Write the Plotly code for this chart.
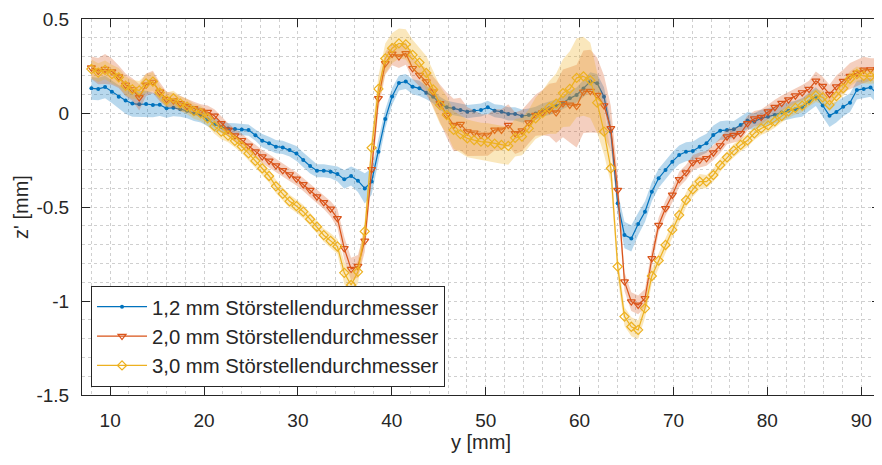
import numpy as np
import plotly.graph_objects as go

# sampling positions along y [mm]
y_mm = np.round(np.linspace(8.0, 91.72, 116), 3)

series_names = ["1,2 mm Störstellendurchmesser",
                "2,0 mm Störstellendurchmesser",
                "3,0 mm Störstellendurchmesser"]

z_12 = [0.131, 0.128, 0.138, 0.113, 0.087, 0.066, 0.050, 0.046, 0.048, 0.043,
        0.044, 0.025, 0.028, 0.020, 0.012, -0.002, -0.011, -0.035, -0.060, -0.075,
        -0.083, -0.085, -0.088, -0.091, -0.118, -0.147, -0.161, -0.179, -0.183, -0.197,
        -0.215, -0.250, -0.282, -0.307, -0.307, -0.312, -0.325, -0.353, -0.335, -0.360,
        -0.401, -0.365, -0.206, -0.032, 0.088, 0.160, 0.167, 0.140, 0.131, 0.108,
        0.087, 0.051, 0.030, 0.025, 0.016, 0.007, 0.012, 0.016, 0.030, 0.012,
        0.007, -0.005, -0.005, -0.016, -0.011, -0.002, 0.016, 0.025, 0.037, 0.055,
        0.078, 0.096, 0.130, 0.167, 0.158, 0.087, -0.099, -0.480, -0.649, -0.667,
        -0.590, -0.525, -0.419, -0.347, -0.303, -0.259, -0.223, -0.206, -0.202, -0.179,
        -0.161, -0.117, -0.094, -0.090, -0.087, -0.064, -0.040, -0.046, -0.028, -0.020,
        -0.011, 0.002, 0.012, 0.020, 0.030, 0.060, 0.087, 0.040, -0.014, 0.005,
        0.033, 0.055, 0.122, 0.128, 0.136, 0.101]

z_20 = [0.241, 0.223, 0.234, 0.220, 0.193, 0.150, 0.125, 0.083, 0.150, 0.165,
        0.113, 0.073, 0.066, 0.051, 0.037, 0.025, 0.012, 0.005, -0.015, -0.055,
        -0.090, -0.120, -0.145, -0.175, -0.205, -0.232, -0.255, -0.280, -0.305, -0.327,
        -0.350, -0.380, -0.410, -0.445, -0.475, -0.510, -0.560, -0.720, -0.830, -0.815,
        -0.680, -0.300, 0.078, 0.264, 0.314, 0.300, 0.317, 0.238, 0.202, 0.167,
        0.113, 0.051, -0.011, -0.064, -0.059, -0.099, -0.105, -0.117, -0.117, -0.090,
        -0.090, -0.064, -0.108, -0.094, -0.051, -0.011, 0.002, 0.016, 0.002, 0.051,
        0.043, 0.037, 0.113, 0.116, 0.095, 0.040, -0.082, -0.410, -0.897, -1.003,
        -1.021, -0.986, -0.773, -0.596, -0.507, -0.436, -0.353, -0.317, -0.264, -0.250,
        -0.241, -0.211, -0.173, -0.126, -0.118, -0.108, -0.055, -0.030, -0.022, 0.007,
        0.031, 0.053, 0.071, 0.092, 0.109, 0.127, 0.171, 0.143, 0.100, 0.140,
        0.170, 0.196, 0.213, 0.229, 0.231, 0.232]

z_30 = [0.234, 0.215, 0.229, 0.207, 0.190, 0.145, 0.126, 0.120, 0.158, 0.167,
        0.108, 0.069, 0.078, 0.051, 0.034, 0.010, -0.002, -0.028, -0.070, -0.099,
        -0.120, -0.148, -0.178, -0.215, -0.255, -0.295, -0.335, -0.390, -0.430, -0.470,
        -0.495, -0.525, -0.565, -0.605, -0.650, -0.680, -0.710, -0.850, -0.915, -0.845,
        -0.630, -0.185, 0.128, 0.290, 0.345, 0.370, 0.365, 0.309, 0.268, 0.213,
        0.125, 0.042, -0.011, -0.090, -0.112, -0.135, -0.144, -0.152, -0.155, -0.163,
        -0.170, -0.175, -0.132, -0.125, -0.082, -0.028, 0.000, 0.030, 0.050, 0.106,
        0.128, 0.187, 0.195, 0.174, 0.055, -0.099, -0.294, -0.817, -1.083, -1.137,
        -1.154, -1.039, -0.867, -0.785, -0.702, -0.622, -0.543, -0.463, -0.406, -0.365,
        -0.365, -0.330, -0.277, -0.236, -0.200, -0.170, -0.146, -0.108, -0.082, -0.066,
        -0.044, -0.016, 0.009, 0.027, 0.039, 0.069, 0.093, 0.083, 0.043, 0.090,
        0.131, 0.182, 0.207, 0.197, 0.195, 0.200]

# half width of the shaded scatter band
hw_12 = [0.06, 0.06, 0.06, 0.06, 0.06, 0.07, 0.07, 0.07, 0.07, 0.065,
         0.06, 0.05, 0.045, 0.04, 0.04, 0.04, 0.04, 0.035, 0.035, 0.03,
         0.03, 0.03, 0.03, 0.03, 0.03, 0.035, 0.035, 0.035, 0.035, 0.035,
         0.04, 0.04, 0.04, 0.035, 0.035, 0.035, 0.04, 0.05, 0.05, 0.06,
         0.08, 0.07, 0.06, 0.05, 0.045, 0.04, 0.04, 0.04, 0.04, 0.035,
         0.035, 0.035, 0.035, 0.035, 0.035, 0.035, 0.035, 0.035, 0.035, 0.035,
         0.035, 0.035, 0.035, 0.035, 0.035, 0.035, 0.035, 0.035, 0.035, 0.035,
         0.04, 0.04, 0.045, 0.05, 0.05, 0.05, 0.05, 0.06, 0.07, 0.07,
         0.06, 0.055, 0.05, 0.05, 0.05, 0.05, 0.05, 0.05, 0.05, 0.05,
         0.05, 0.05, 0.05, 0.05, 0.045, 0.045, 0.045, 0.045, 0.045, 0.045,
         0.045, 0.045, 0.045, 0.045, 0.05, 0.05, 0.05, 0.06, 0.06, 0.055,
         0.05, 0.05, 0.05, 0.05, 0.05, 0.05]

hw_20 = [0.06, 0.07, 0.08, 0.07, 0.06, 0.06, 0.06, 0.07, 0.06, 0.06,
         0.05, 0.04, 0.04, 0.04, 0.035, 0.035, 0.035, 0.035, 0.035, 0.035,
         0.035, 0.035, 0.035, 0.035, 0.035, 0.035, 0.035, 0.035, 0.035, 0.035,
         0.035, 0.035, 0.035, 0.035, 0.035, 0.04, 0.05, 0.06, 0.06, 0.06,
         0.06, 0.06, 0.06, 0.06, 0.06, 0.06, 0.06, 0.06, 0.06, 0.07,
         0.08, 0.10, 0.12, 0.14, 0.14, 0.13, 0.12, 0.11, 0.11, 0.11,
         0.11, 0.11, 0.11, 0.11, 0.11, 0.11, 0.12, 0.14, 0.16, 0.18,
         0.20, 0.22, 0.22, 0.22, 0.20, 0.16, 0.12, 0.08, 0.05, 0.05,
         0.05, 0.05, 0.05, 0.04, 0.04, 0.04, 0.04, 0.04, 0.04, 0.04,
         0.04, 0.04, 0.04, 0.04, 0.04, 0.04, 0.04, 0.04, 0.04, 0.04,
         0.04, 0.04, 0.04, 0.04, 0.04, 0.045, 0.05, 0.05, 0.05, 0.06,
         0.06, 0.07, 0.07, 0.07, 0.06, 0.06]

hw_30 = [0.05, 0.05, 0.05, 0.05, 0.05, 0.05, 0.05, 0.05, 0.05, 0.05,
         0.04, 0.04, 0.04, 0.04, 0.04, 0.04, 0.04, 0.04, 0.04, 0.04,
         0.035, 0.035, 0.035, 0.035, 0.035, 0.035, 0.035, 0.035, 0.035, 0.035,
         0.035, 0.035, 0.035, 0.035, 0.035, 0.04, 0.04, 0.06, 0.06, 0.06,
         0.06, 0.06, 0.07, 0.08, 0.08, 0.08, 0.08, 0.08, 0.08, 0.09,
         0.10, 0.10, 0.10, 0.10, 0.10, 0.10, 0.10, 0.10, 0.10, 0.10,
         0.10, 0.10, 0.10, 0.10, 0.10, 0.11, 0.12, 0.14, 0.16, 0.18,
         0.20, 0.21, 0.21, 0.20, 0.16, 0.12, 0.08, 0.06, 0.05, 0.05,
         0.05, 0.05, 0.04, 0.04, 0.04, 0.04, 0.04, 0.04, 0.04, 0.04,
         0.035, 0.035, 0.035, 0.035, 0.035, 0.035, 0.035, 0.035, 0.035, 0.035,
         0.035, 0.035, 0.035, 0.035, 0.035, 0.035, 0.035, 0.035, 0.035, 0.035,
         0.04, 0.04, 0.04, 0.04, 0.04, 0.04]

x_ticks = [10, 20, 30, 40, 50, 60, 70, 80, 90]
x_ticktext = ["10", "20", "30", "40", "50", "60", "70", "80", "90"]
y_ticks = [-1.5, -1.0, -0.5, 0.0, 0.5]
y_ticktext = ["-1.5", "-1", "-0.5", "0", "0.5"]

colors = ["#0072BD", "#D95319", "#EDB120"]
fills = ["rgba(0,114,189,0.28)", "rgba(217,83,25,0.28)", "rgba(237,177,32,0.30)"]
markers = [dict(symbol="circle", size=4, color=colors[0]),
           dict(symbol="triangle-down-open", size=7, color=colors[1], line=dict(width=1.2, color=colors[1])),
           dict(symbol="diamond-open", size=7, color=colors[2], line=dict(width=1.2, color=colors[2]))]

fig = go.Figure()
xs = list(y_mm)
for name, z, hw, col, fc, mk in zip(series_names, [z_12, z_20, z_30], [hw_12, hw_20, hw_30],
                                     colors, fills, markers):
    z = np.array(z)
    hw = np.array(hw)
    upper = z + hw
    lower = z - hw
    fig.add_trace(go.Scatter(x=xs + xs[::-1], y=list(upper) + list(lower[::-1]),
                             fill="toself", fillcolor=fc, line=dict(width=0),
                             mode="lines", hoverinfo="skip", showlegend=False))
    fig.add_trace(go.Scatter(x=xs, y=list(z), mode="lines+markers", name=name,
                             line=dict(color=col, width=1.2), marker=mk))

grid_col = "#cfcfcf"
axis_col = "#262626"
fig.update_xaxes(range=[7, 92], tickmode="array", tickvals=x_ticks, ticktext=x_ticktext,
                 ticks="inside", ticklen=8, tickcolor=axis_col, tickwidth=1,
                 showline=True, linecolor=axis_col, linewidth=1, mirror="ticks",
                 showgrid=True, gridcolor=grid_col, griddash="dot", gridwidth=1,
                 minor=dict(tick0=0, dtick=2, showgrid=True, gridcolor=grid_col, griddash="dot", ticks=""),
                 zeroline=False, tickfont=dict(size=19, color=axis_col), automargin=False,
                 title=dict(text="y [mm]", font=dict(size=20, color=axis_col), standoff=4),
                 ticklabelstandoff=8)
fig.update_yaxes(range=[-1.5, 0.5], tickmode="array", tickvals=y_ticks, ticktext=y_ticktext,
                 ticks="inside", ticklen=8, tickcolor=axis_col, tickwidth=1,
                 showline=True, linecolor=axis_col, linewidth=1, mirror="ticks",
                 showgrid=True, gridcolor=grid_col, griddash="dot", gridwidth=1,
                 minor=dict(tick0=0, dtick=0.1, showgrid=True, gridcolor=grid_col, griddash="dot", ticks=""),
                 zeroline=False, tickfont=dict(size=19, color=axis_col), automargin=False,
                 title=dict(text="z' [mm]", font=dict(size=20, color=axis_col), standoff=2),
                 ticklabelstandoff=8)
# the page body adds an 8 px offset, so the figure is placed to compensate
fig.update_layout(width=874, height=457, margin=dict(l=74, r=2, t=11, b=70),
                  plot_bgcolor="white", paper_bgcolor="white",
                  font=dict(family="Arial, Liberation Sans, Helvetica, sans-serif", color=axis_col),
                  legend=dict(x=0.0113, y=0.0213, xanchor="left", yanchor="bottom",
                              bordercolor=axis_col, borderwidth=1, bgcolor="white",
                              font=dict(size=20.3, color=axis_col), tracegroupgap=0,
                              itemwidth=50))
fig.write_html("out.html")
